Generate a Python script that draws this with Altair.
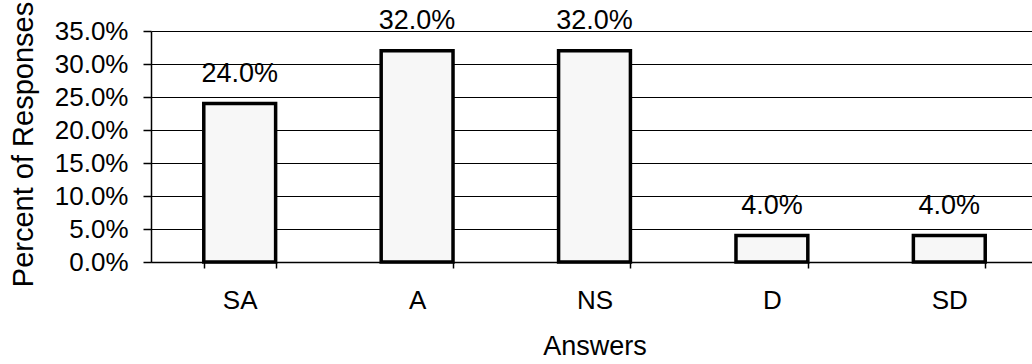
import altair as alt
import pandas as pd

answers = ["SA", "A", "NS", "D", "SD"]
percents = [0.24, 0.32, 0.32, 0.04, 0.04]
y_ticks = [0.0, 0.05, 0.10, 0.15, 0.20, 0.25, 0.30, 0.35]

df = pd.DataFrame({"Answer": answers, "Percent": percents})

FONT = "Liberation Sans"

x_enc = alt.X(
    "Answer:N",
    sort=answers,
    scale=alt.Scale(range=[0, 887], paddingInner=0.595, paddingOuter=0.2975),
    axis=alt.Axis(
        title="Answers",
        labelAngle=0,
        labelFontSize=26,
        labelFont=FONT,
        labelColor="black",
        labelPadding=19,
        titleFontSize=27,
        titleFont=FONT,
        titleFontWeight="normal",
        titleColor="black",
        titlePadding=20,
        tickBand="extent",
        tickSize=6,
        tickColor="black",
        tickWidth=1.5,
        domainColor="black",
        domainWidth=1.5,
        grid=False,
    ),
)

y_enc = alt.Y(
    "Percent:Q",
    scale=alt.Scale(domain=[0, 0.35], nice=False),
    axis=alt.Axis(
        title="Percent of Responses",
        values=y_ticks,
        format=".1%",
        labelOverlap=False,
        labelFontSize=26,
        labelFont=FONT,
        labelColor="black",
        labelPadding=15,
        labelBaseline="middle",
        titleFontSize=29,
        titleFont=FONT,
        titleFontWeight="normal",
        titleColor="black",
        titleX=-119,
        titleY=113,
        titleAngle=270,
        titleAlign="center",
        titleBaseline="alphabetic",
        tickSize=8,
        tickColor="black",
        tickWidth=1.5,
        domainColor="black",
        domainWidth=1.5,
        grid=True,
        gridColor="black",
        gridWidth=1.2,
    ),
)

base = alt.Chart(df).encode(x=x_enc, y=y_enc)

bars = base.mark_bar(fill="#f7f7f7", stroke="black", strokeWidth=3.5)

labels = base.mark_text(
    font=FONT, fontSize=27, color="black", baseline="alphabetic", dy=-22
).encode(text=alt.Text("Percent:Q", format=".1%"))

chart = (
    alt.layer(bars, labels)
    .properties(
        width=881,
        height=231,
        autosize=alt.AutoSizeParams(type="none"),
        padding={"left": 151, "top": 31, "right": 0, "bottom": 102},
        background="white",
    )
    .configure_view(stroke=None)
)

chart.save("out.html", embed_options={"renderer": "svg", "actions": False})
